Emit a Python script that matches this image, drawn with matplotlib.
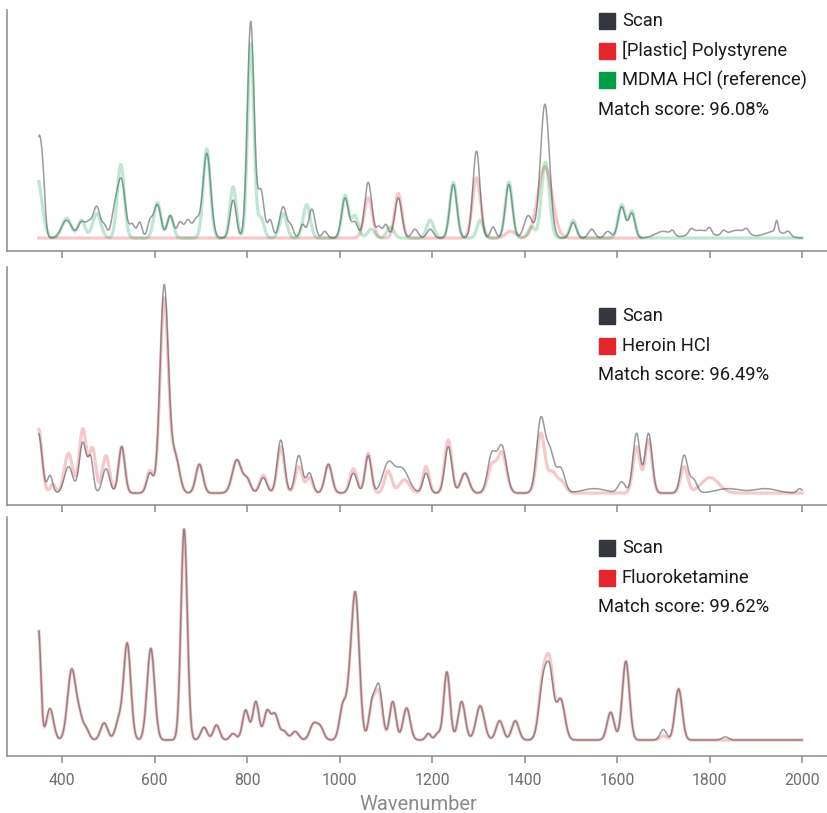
import numpy as np
import matplotlib.pyplot as plt
from matplotlib.patches import Rectangle

plt.rcParams['font.family'] = ['Roboto', 'DejaVu Sans']

# Band tables: (wavenumber, relative height, FWHM)
scan1_peaks = [(349, 0.38, 12), (358, 0.28, 12), (410, 0.08, 26), (442, 0.07, 18), (458, 0.06, 16),
               (475, 0.14, 18), (492, 0.05, 13), (513, 0.10, 16), (528, 0.26, 20), (552, 0.06, 14),
               (568, 0.07, 12), (590, 0.07, 13), (606, 0.15, 18), (634, 0.10, 16), (655, 0.07, 14),
               (672, 0.08, 16), (690, 0.08, 16), (713, 0.38, 20), (770, 0.17, 16), (808, 0.97, 17),
               (830, 0.21, 16), (850, 0.08, 13), (878, 0.14, 18), (895, 0.05, 13), (920, 0.06, 13),
               (940, 0.13, 16), (968, 0.03, 13), (1012, 0.18, 18), (1033, 0.07, 16), (1062, 0.25, 18),
               (1085, 0.05, 13), (1100, 0.06, 13), (1127, 0.18, 18), (1163, 0.04, 16), (1196, 0.04, 16),
               (1246, 0.24, 18), (1296, 0.39, 18), (1332, 0.05, 13), (1366, 0.24, 18), (1408, 0.10, 21),
               (1444, 0.60, 23), (1505, 0.07, 16), (1545, 0.04, 16), (1580, 0.03, 16), (1610, 0.14, 18),
               (1632, 0.11, 16), (1700, 0.03, 40), (1780, 0.035, 50), (1860, 0.035, 50), (1940, 0.03, 50),
               (1720, 0.02, 10), (1760, 0.02, 12), (1800, 0.025, 10), (1830, 0.02, 12), (1880, 0.02, 12),
               (1945, 0.05, 7), (1970, 0.02, 12)]
polystyrene_peaks = [(1062, 0.18, 21), (1127, 0.20, 18), (1296, 0.27, 21), (1370, 0.03, 26),
                     (1444, 0.32, 36)]
mdma_peaks = [(345, 0.28, 26), (410, 0.09, 23), (442, 0.08, 18), (475, 0.11, 21), (527, 0.33, 18),
              (606, 0.16, 18), (634, 0.10, 16), (713, 0.40, 18), (770, 0.23, 16), (808, 0.87, 16),
              (830, 0.09, 16), (878, 0.11, 18), (929, 0.15, 18), (1012, 0.19, 16), (1033, 0.10, 18),
              (1068, 0.04, 18), (1110, 0.05, 18), (1196, 0.08, 18), (1246, 0.25, 18), (1304, 0.08, 16),
              (1366, 0.25, 18), (1415, 0.05, 16), (1445, 0.34, 20), (1505, 0.08, 16), (1610, 0.15, 18),
              (1632, 0.12, 16)]

scan2_peaks = [(349, 0.27, 18), (374, 0.08, 13), (414, 0.12, 21), (445, 0.23, 18), (462, 0.15, 13),
               (495, 0.11, 18), (529, 0.21, 16), (590, 0.09, 16), (621, 0.94, 21), (645, 0.16, 21),
               (697, 0.13, 18), (778, 0.15, 23), (800, 0.06, 18), (835, 0.07, 18), (873, 0.24, 18),
               (912, 0.17, 18), (935, 0.09, 16), (976, 0.13, 18), (1030, 0.09, 18), (1062, 0.17, 16),
               (1105, 0.13, 28), (1135, 0.11, 34), (1187, 0.09, 16), (1235, 0.21, 18), (1271, 0.09, 21),
               (1329, 0.17, 21), (1351, 0.21, 23), (1435, 0.33, 21), (1455, 0.18, 21), (1478, 0.11, 21),
               (1550, 0.02, 60), (1610, 0.05, 18), (1642, 0.27, 18), (1668, 0.27, 18), (1745, 0.17, 18),
               (1765, 0.06, 18), (1840, 0.02, 60), (1920, 0.02, 60), (1995, 0.02, 13)]
heroin_peaks = [(349, 0.29, 18), (380, 0.04, 13), (414, 0.18, 21), (445, 0.29, 18), (466, 0.20, 16),
                (495, 0.17, 18), (529, 0.21, 16), (590, 0.10, 16), (621, 0.88, 21), (645, 0.16, 21),
                (697, 0.13, 18), (778, 0.15, 23), (800, 0.06, 18), (835, 0.08, 18), (873, 0.21, 18),
                (912, 0.12, 18), (935, 0.07, 16), (976, 0.13, 18), (1030, 0.11, 18), (1062, 0.18, 16),
                (1105, 0.10, 18), (1140, 0.06, 26), (1187, 0.12, 16), (1235, 0.24, 18), (1271, 0.09, 21),
                (1329, 0.12, 21), (1351, 0.18, 23), (1435, 0.27, 21), (1460, 0.09, 21), (1480, 0.05, 21),
                (1642, 0.21, 18), (1668, 0.24, 18), (1745, 0.12, 18), (1801, 0.07, 45)]

scan3_peaks = [(349, 0.52, 12), (374, 0.15, 18), (421, 0.33, 21), (438, 0.09, 16), (452, 0.05, 16),
               (491, 0.08, 18), (523, 0.09, 18), (541, 0.45, 18), (592, 0.43, 19), (664, 0.99, 16),
               (707, 0.06, 16), (734, 0.07, 16), (770, 0.03, 16), (797, 0.14, 16), (819, 0.18, 16),
               (843, 0.13, 16), (860, 0.12, 18), (880, 0.04, 16), (904, 0.04, 18), (943, 0.07, 18),
               (958, 0.06, 18), (1008, 0.17, 18), (1021, 0.10, 13), (1034, 0.69, 20), (1070, 0.16, 16),
               (1085, 0.25, 18), (1115, 0.18, 16), (1145, 0.15, 18), (1192, 0.03, 13), (1212, 0.03, 13),
               (1232, 0.32, 16), (1264, 0.18, 18), (1304, 0.16, 21), (1346, 0.09, 18), (1380, 0.09, 18),
               (1440, 0.26, 21), (1455, 0.28, 19), (1478, 0.19, 21), (1586, 0.13, 18), (1619, 0.37, 18),
               (1700, 0.05, 16), (1733, 0.24, 18), (1834, 0.015, 16)]
fluoroketamine_peaks = [(349, 0.52, 12), (374, 0.14, 18), (421, 0.33, 21), (438, 0.09, 16), (452, 0.05, 16),
                        (491, 0.08, 18), (523, 0.09, 18), (541, 0.45, 18), (592, 0.43, 19), (664, 0.99, 16),
                        (707, 0.06, 16), (734, 0.07, 16), (770, 0.03, 16), (797, 0.14, 16), (819, 0.18, 16),
                        (843, 0.13, 16), (860, 0.12, 18), (880, 0.04, 16), (904, 0.04, 18), (943, 0.07, 18),
                        (958, 0.06, 18), (1008, 0.17, 18), (1021, 0.10, 13), (1034, 0.69, 20), (1070, 0.16, 16),
                        (1085, 0.22, 18), (1115, 0.18, 16), (1145, 0.15, 18), (1192, 0.03, 13), (1212, 0.03, 13),
                        (1232, 0.32, 16), (1264, 0.18, 18), (1304, 0.16, 21), (1346, 0.09, 18), (1380, 0.09, 18),
                        (1440, 0.28, 21), (1455, 0.31, 19), (1478, 0.19, 21), (1586, 0.13, 18), (1619, 0.37, 18),
                        (1700, 0.02, 16), (1733, 0.24, 18)]

legend1 = ["Scan", "[Plastic] Polystyrene", "MDMA HCl (reference)"]
legend2 = ["Scan", "Heroin HCl"]
legend3 = ["Scan", "Fluoroketamine"]
scores = ["96.08%", "96.49%", "99.62%"]
xticks = [400, 600, 800, 1000, 1200, 1400, 1600, 1800, 2000]

SCAN_C = "#343640"
RED_C = "#e3262b"
GREEN_C = "#009e47"
AXIS_C = "#8a8a8a"

W, H = 828, 813
wn = np.arange(350, 2001, 1.0)


def spectrum(peaks, lo=350, hi=2000):
    y = np.zeros_like(wn)
    for c, h, w in peaks:
        y += h * np.exp(-4 * np.log(2) * ((wn - c) / w) ** 2)
    y[(wn < lo) | (wn > hi)] = np.nan
    return y


fig = plt.figure(figsize=(W / 100, H / 100), dpi=100)

# axes boxes in pixels: (top, bottom), plus y-limits so baseline/peak land where they do
boxes = [(10, 251), (267, 505), (517, 756)]
ylims = [(-0.058, 1.022), (-0.054, 1.023), (-0.075, 1.047)]
axes = []
for (top, bot), yl in zip(boxes, ylims):
    ax = fig.add_axes([7.3 / W, 1 - bot / H, (W - 7.3) / W, (bot - top) / H])
    ax.set_xlim(281.7, 2056)
    ax.set_ylim(*yl)
    ax.set_yticks([])
    ax.set_xticks(xticks)
    for s in ["top", "right"]:
        ax.spines[s].set_visible(False)
    for s in ["left", "bottom"]:
        ax.spines[s].set_color(AXIS_C)
        ax.spines[s].set_linewidth(1.1)
    ax.tick_params(axis="x", direction="out", length=5, width=1.1, color=AXIS_C,
                   labelsize=11.3, labelcolor="#6e6e6e", pad=7)
    axes.append(ax)

axes[0].tick_params(labelbottom=False)
axes[1].tick_params(labelbottom=False)
fig.text(418 / W, 1 - 810 / H, "Wavenumber", fontsize=14.5, color="#8a8a8a", ha="center", va="baseline")

ref_kw = dict(alpha=0.25, lw=2.3)
scan_kw = dict(color=SCAN_C, alpha=0.5, lw=1.1)

axes[0].plot(wn, spectrum(polystyrene_peaks, hi=1650), color=RED_C, **ref_kw)
axes[0].plot(wn, spectrum(scan1_peaks), **scan_kw)
axes[0].plot(wn, spectrum(mdma_peaks), color=GREEN_C, **ref_kw)

axes[1].plot(wn, spectrum(heroin_peaks), color=RED_C, **ref_kw)
axes[1].plot(wn, spectrum(scan2_peaks), **scan_kw)

axes[2].plot(wn, spectrum(fluoroketamine_peaks), color=RED_C, **ref_kw)
axes[2].plot(wn, spectrum(scan3_peaks), **scan_kw)


def legend(labels, colors, first_y, score):
    step = 29.7
    for i, (lab, col) in enumerate(zip(labels, colors)):
        cy = first_y + i * step
        fig.patches.append(Rectangle((599 / W, 1 - (cy + 8) / H), 16 / W, 16 / H,
                                     transform=fig.transFigure, color=col, zorder=5))
        fig.text(622 / W, 1 - cy / H, lab, fontsize=13.2, color="#1a1a1a", va="center")
    cy = first_y + len(labels) * step
    fig.text(598 / W, 1 - cy / H, "Match score: " + score, fontsize=13.2, color="#1a1a1a", va="center")


legend(legend1, [SCAN_C, RED_C, GREEN_C], 21, scores[0])
legend(legend2, [SCAN_C, RED_C], 316, scores[1])
legend(legend3, [SCAN_C, RED_C], 548, scores[2])

fig.savefig("out.png", dpi=100)
